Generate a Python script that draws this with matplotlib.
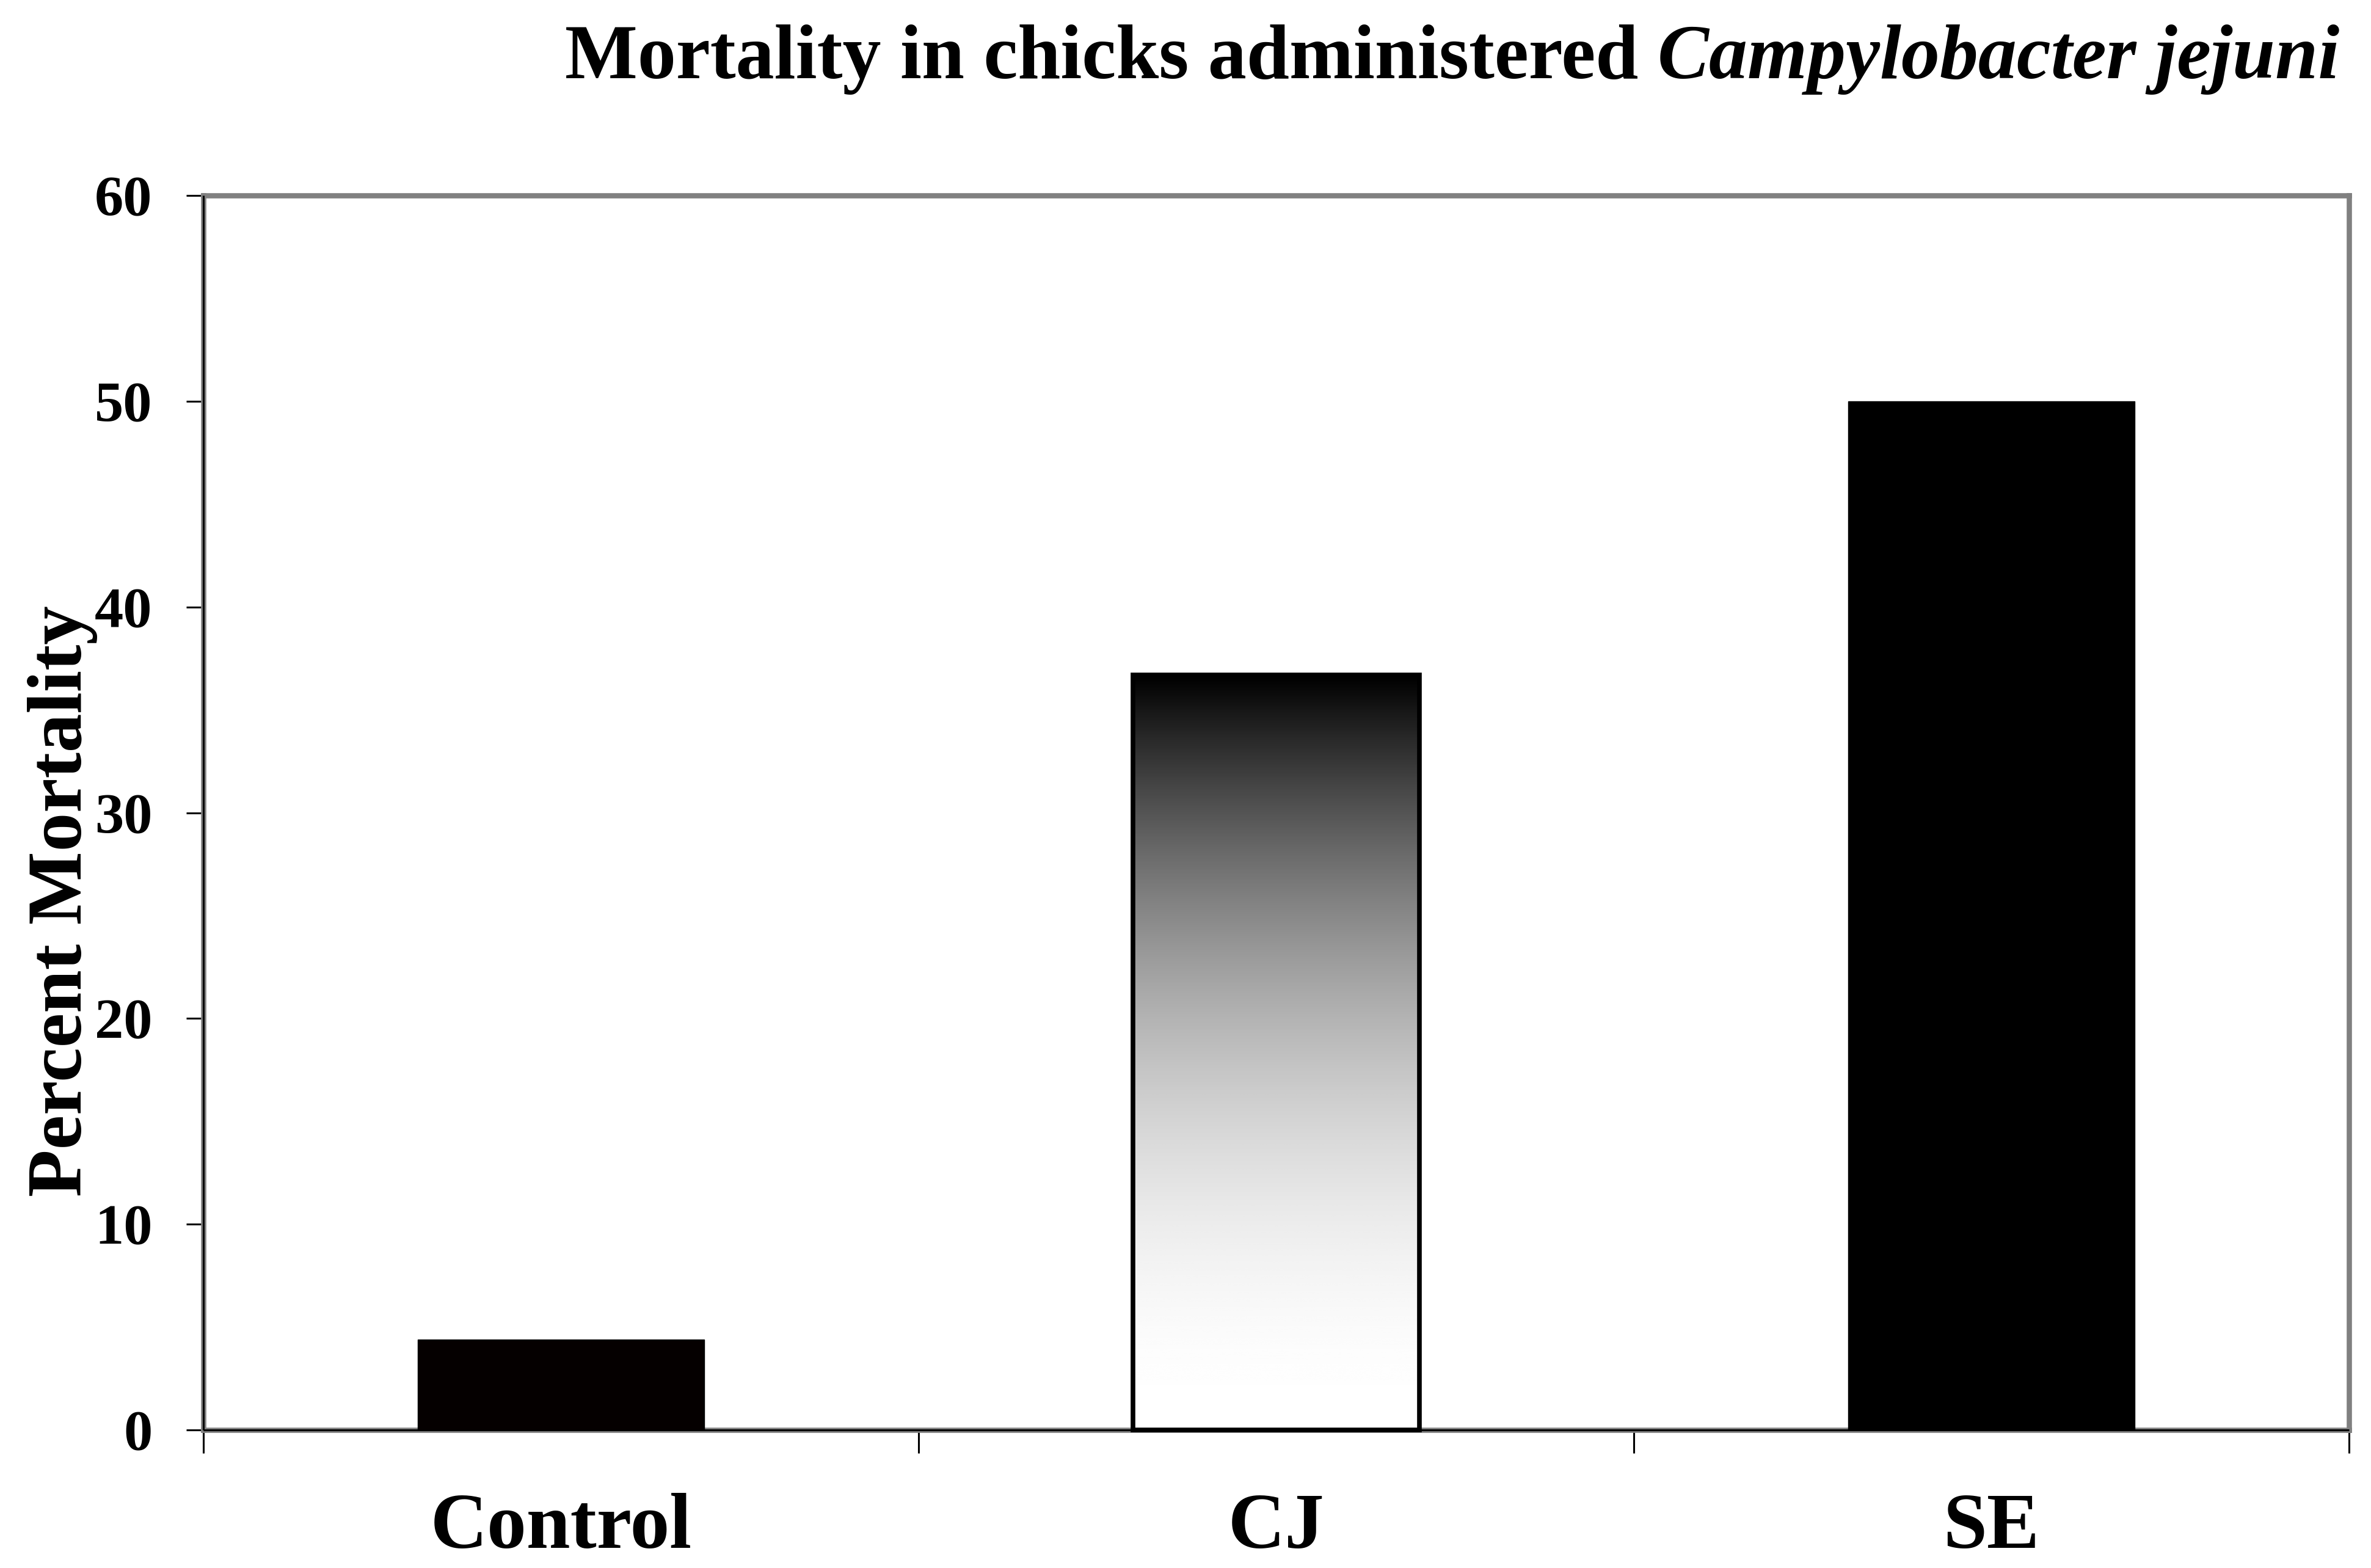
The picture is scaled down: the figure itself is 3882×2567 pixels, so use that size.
import matplotlib
matplotlib.use('Agg')
import matplotlib.pyplot as plt
import numpy as np

# ---- data ----
categories = ['Control', 'CJ', 'SE']
mortality = [4.4, 36.7, 50.0]
y_ticks = [0, 10, 20, 30, 40, 50, 60]
title_main = 'Mortality in chicks administered'
title_species = 'Campylobacter jejuni'
y_label = 'Percent Mortality'

W, H = 3882, 2567
DPI = 100
plt.rcParams['font.family'] = ['Liberation Serif', 'DejaVu Serif']
plt.rcParams['font.weight'] = 'bold'

fig = plt.figure(figsize=(W / DPI, H / DPI), dpi=DPI)
ax = fig.add_axes([333 / W, 1 - 2341 / H, (3846 - 333) / W, (2341 - 320) / H])

x = np.arange(len(categories))
face = ['#050000', 'none', 'black']
lws = [1.0, 5.5, 1.0]
bars = ax.bar(x, mortality, width=0.4, color=face, edgecolor='black', zorder=4, clip_on=False)
for b, lw in zip(bars, lws):
    b.set_linewidth(lw)

# gradient fill for CJ bar (black at top -> white at bottom)
b = bars[1]
x0, y0, w, h = b.get_x(), b.get_y(), b.get_width(), b.get_height()
hh = np.linspace(0, 1, 512)[:, None]
grad = 1 - hh ** 2
im = ax.imshow(grad, cmap='gray', vmin=0, vmax=1, extent=[x0, x0 + w, y0, y0 + h],
               origin='lower', aspect='auto', zorder=3.9, interpolation='bicubic')
im.set_clip_path(b)

ax.set_xlim(-0.5, 2.5)
ax.set_ylim(0, 60)

# spines
for s in ax.spines.values():
    s.set_color('#808080')
    s.set_linewidth(6.2)
ax.plot([0, 0], [0, 1], transform=ax.transAxes, color='black', lw=2.2,
        clip_on=False, zorder=3.5, solid_capstyle='butt')
ax.plot([0, 1], [0, 0], transform=ax.transAxes, color='black', lw=2.2,
        clip_on=False, zorder=3.5, solid_capstyle='butt')

# ticks
ax.set_yticks(y_ticks)
ax.tick_params(axis='y', direction='out', length=20, width=2.2, color='black',
               pad=40, labelsize=68)
ax.set_xticks(x)
ax.set_xticklabels(categories)
ax.tick_params(axis='x', which='major', length=0, pad=74, labelsize=93)
ax.set_xticks(np.arange(-0.5, 3.0, 1.0), minor=True)
ax.tick_params(axis='x', which='minor', direction='out', length=27, width=2.2, color='black')

# y label
fig.text(133 / W, 1 - 1475 / H, y_label, rotation=90, rotation_mode='anchor',
         ha='center', va='baseline', fontsize=91.5)

# title: bold + bold italic species name
TFS = 90.7
t2 = fig.text(3830 / W, 1 - 128 / H, title_species, style='italic', ha='right',
              va='baseline', fontsize=TFS)
fig.canvas.draw()
bb = t2.get_window_extent()
space = 0.25 * TFS * DPI / 72
fig.text((bb.x0 - space) / W, 1 - 128 / H, title_main, ha='right', va='baseline',
         fontsize=TFS)

fig.savefig('out.png', dpi=DPI)
